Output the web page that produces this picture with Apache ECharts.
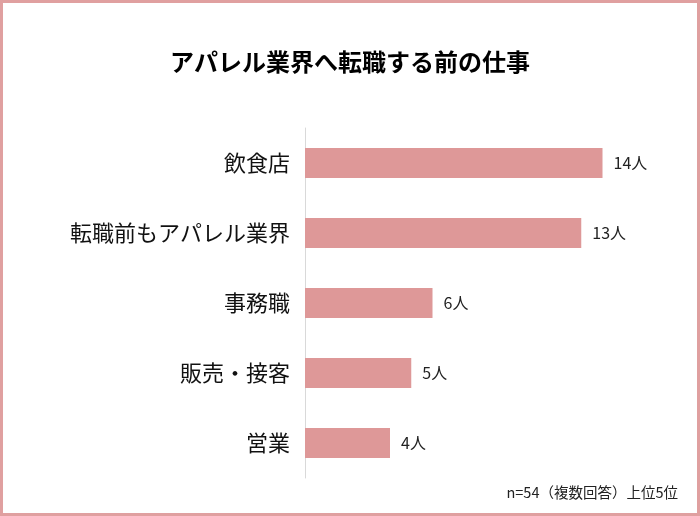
<!DOCTYPE html>
<html><head><meta charset="utf-8">
<script src="https://cdn.jsdelivr.net/npm/echarts@6/dist/echarts.min.js"></script>
<style>html,body{margin:0;padding:0;background:#fff}#c{width:700px;height:516px}</style>
</head><body><div id="c"></div>
<script>
const titleText = 'アパレル業界へ転職する前の仕事';
const categories = ['飲食店', '転職前もアパレル業界', '事務職', '販売・接客', '営業'];
const values = [14, 13, 6, 5, 4];
const unit = '人';
const footnote = 'n=54（複数回答）上位5位';

const chart = echarts.init(document.getElementById('c'), null, {renderer: 'canvas'});
const FONT = '"Noto Sans CJK JP", "Noto Sans", sans-serif';
chart.setOption({
  animation: false,
  backgroundColor: '#fff',
  title: {
    text: titleText, left: 'center', top: 45,
    textStyle: {fontFamily: FONT, fontSize: 24, fontWeight: 'bold', color: '#000'}
  },
  graphic: [
    {type: 'rect', shape: {x: 1.5, y: 1.5, width: 697, height: 513},
     style: {fill: 'none', stroke: '#E0A0A0', lineWidth: 3}, silent: true, z: 100},
    {type: 'text', right: 22, top: 485,
     style: {text: footnote, font: '14.5px ' + FONT, fill: '#222'}}
  ],
  grid: {left: 305, top: 128, width: 340, height: 350},
  xAxis: {
    type: 'value', min: 0, max: 16, show: false
  },
  yAxis: {
    type: 'category', data: categories, inverse: true,
    axisLine: {show: true, lineStyle: {color: '#D9D9D9', width: 1}},
    axisTick: {show: false},
    axisLabel: {fontFamily: FONT, fontSize: 22, color: '#111', margin: 15}
  },
  series: [{
    type: 'bar', data: values, barWidth: 30,
    itemStyle: {color: '#DE9898'},
    label: {
      show: true, position: 'right', distance: 11,
      formatter: p => p.value + unit,
      fontFamily: FONT, fontSize: 16, color: '#222'
    }
  }]
});
</script></body></html>
